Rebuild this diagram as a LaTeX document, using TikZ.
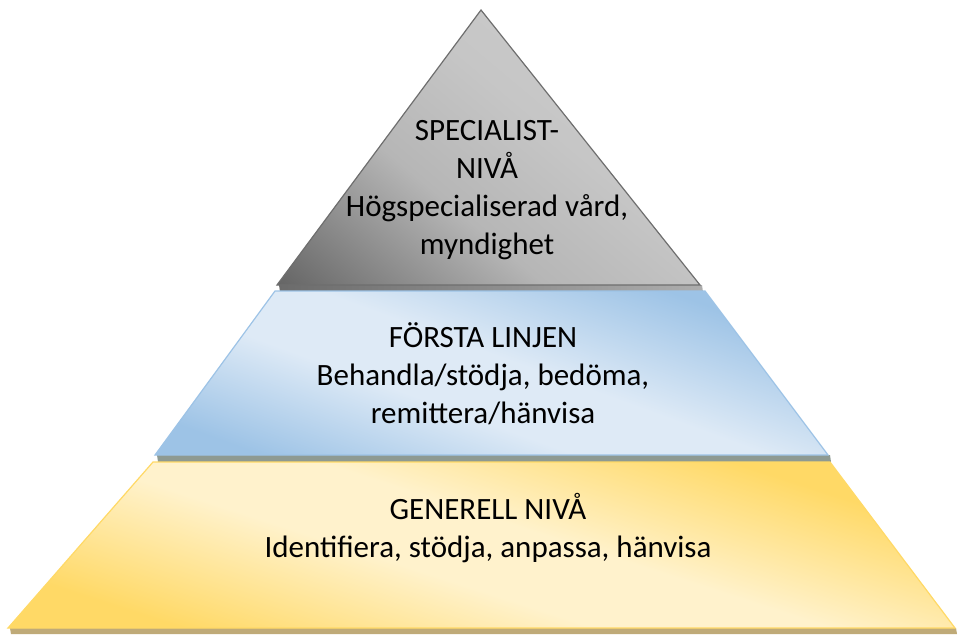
\documentclass[tikz,border=0pt]{standalone}
\usepackage{fontspec}
\setmainfont{Carlito}
\definecolor{grayDark}{HTML}{5C5C5C}
\definecolor{grayMid}{HTML}{B6B6B6}
\definecolor{grayMid2}{HTML}{C6C6C6}
\definecolor{grayLight}{HTML}{D2D2D2}
\definecolor{grayEdge}{HTML}{6E6E6E}
\definecolor{blueDark}{HTML}{9DC3E6}
\definecolor{blueLight}{HTML}{DEEAF6}
\definecolor{yelDark}{HTML}{FFD966}
\definecolor{yelLight}{HTML}{FFF2CC}
\definecolor{blueBase}{HTML}{8E9A92}
\definecolor{yelBase}{HTML}{BFAA78}
\pgfdeclareverticalshading{grayshade}{100bp}{color(0bp)=(grayDark); color(12bp)=(grayDark); color(40bp)=(grayMid); color(58bp)=(grayMid2); color(100bp)=(grayLight)}
\pgfdeclareverticalshading{blueshade}{100bp}{color(0bp)=(blueDark); color(24bp)=(blueDark); color(42bp)=(blueLight); color(53bp)=(blueLight); color(73bp)=(blueDark); color(100bp)=(blueDark)}
\pgfdeclareverticalshading{yelshade}{100bp}{color(0bp)=(yelDark); color(26bp)=(yelDark); color(44bp)=(yelLight); color(54bp)=(yelLight); color(72bp)=(yelDark); color(100bp)=(yelDark)}
\begin{document}
\begin{tikzpicture}[x=1pt,y=-1pt]
\tikzset{
  graytier/.style={draw=grayEdge, line width=1.2pt, shading=grayshade, shading angle=-40},
  bluetier/.style={draw=blueDark, line width=1.2pt, shading=blueshade, shading angle=-20},
  yeltier/.style={draw=yelDark, line width=1.2pt, shading=yelshade, shading angle=-18},
  tiertext/.style={align=center, font=\fontsize{31}{38}\selectfont, text=black, inner sep=0pt}
}
\useasboundingbox (0,0) rectangle (960,635);
% base strips
\shade[left color=black!58, right color=black!32] (279,285) -- (702,285) -- (703,292) -- (280,292) -- cycle;
\fill[blueBase] (157,455) -- (830,455) -- (831,462) -- (158,462) -- cycle;
\fill[yelBase] (10,628) -- (956,628) -- (957,634) -- (11,634) -- cycle;
% tiers
\shade[graytier] (481,10) -- (700,285) -- (277,285) -- cycle;
\shade[bluetier] (275,291) -- (705,291) -- (828,455) -- (155,455) -- cycle;
\shade[yeltier] (153,462) -- (830,462) -- (955,628) -- (8,628) -- cycle;
% texts
\node[tiertext] (top) at (487,190) {SPECIALIST-\\NIVÅ\\Högspecialiserad vård,\\myndighet};
\node[tiertext] (mid) at (483,374) {FÖRSTA LINJEN\\Behandla/stödja, bedöma,\\remittera/hänvisa};
\node[tiertext] (bot) at (488,528) {GENERELL NIVÅ\\Identifiera, stödja, anpassa, hänvisa};
\end{tikzpicture}
\end{document}
